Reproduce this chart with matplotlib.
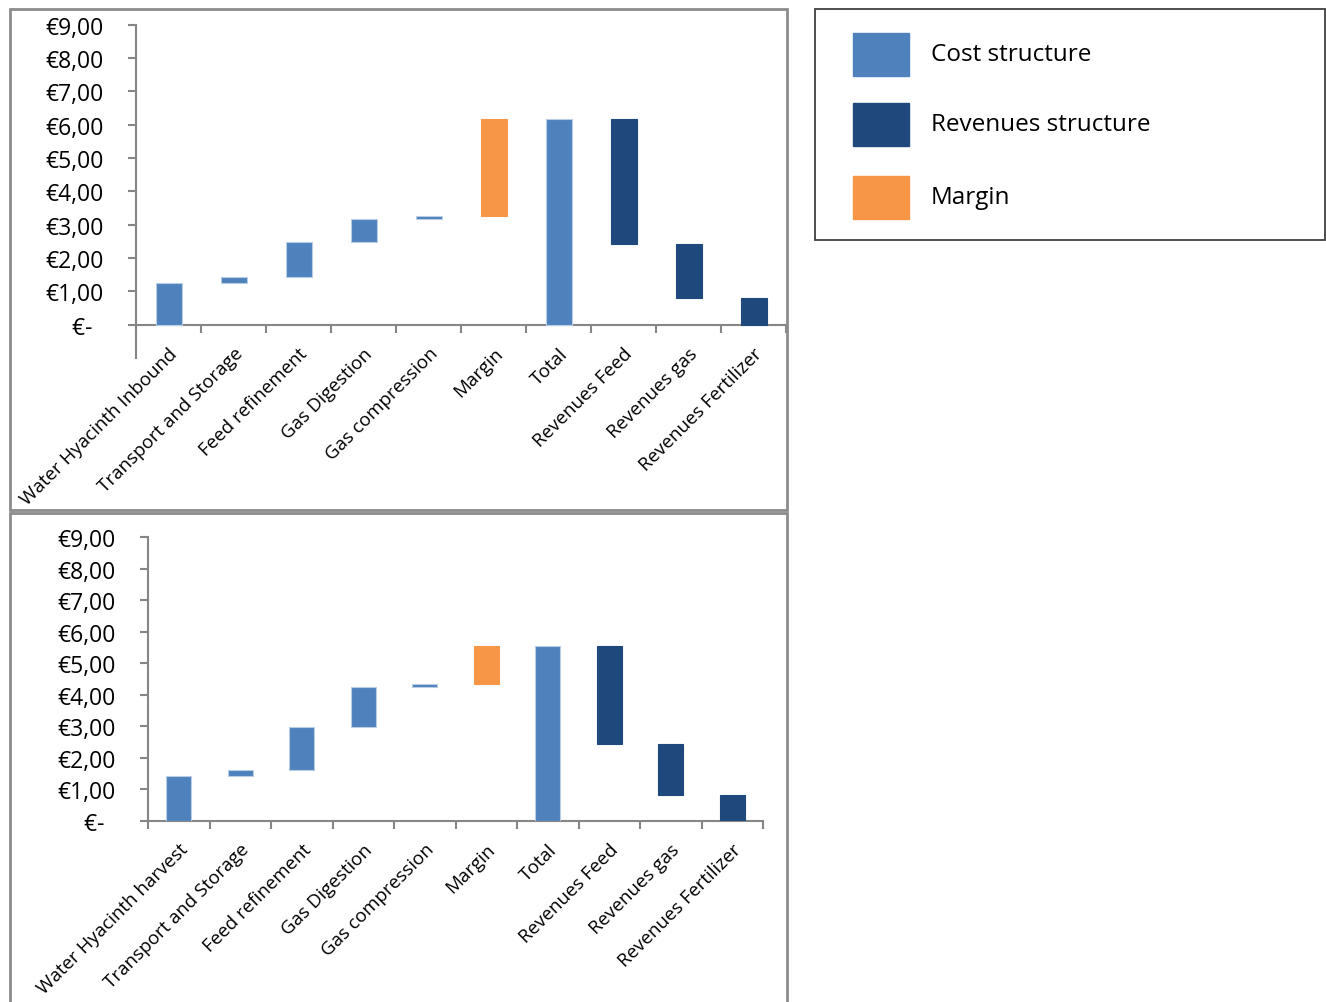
import numpy as np
import matplotlib
matplotlib.use("Agg")
import matplotlib.pyplot as plt
from matplotlib.patches import Rectangle
from matplotlib.ticker import FixedLocator, NullFormatter

plt.rcParams['font.family'] = ['Open Sans', 'DejaVu Sans']

# cost build-up and revenue split, euro per unit
labels_top = ["Water Hyacinth Inbound", "Transport and Storage", "Feed refinement",
              "Gas Digestion", "Gas compression", "Margin", "Total",
              "Revenues Feed", "Revenues gas", "Revenues Fertilizer"]
labels_bottom = ["Water Hyacinth harvest", "Transport and Storage", "Feed refinement",
                 "Gas Digestion", "Gas compression", "Margin", "Total",
                 "Revenues Feed", "Revenues gas", "Revenues Fertilizer"]

# step sizes: five cost steps, margin, then revenues (feed, gas, fertilizer)
costs_top = [1.26, 0.17, 1.04, 0.71, 0.08]
margin_top = 2.91
revenues_top = [3.75, 1.63, 0.79]

costs_bottom = [1.42, 0.18, 1.38, 1.25, 0.10]
margin_bottom = 1.21
revenues_bottom = [3.11, 1.63, 0.80]

legend_labels = ["Cost structure", "Revenues structure", "Margin"]

C_COST = "#4F81BD"
C_REV = "#1F497D"
C_MARGIN = "#F79646"
GRID = "#868686"


def waterfall(ax, labels, costs, margin, revenues, ymin):
    # spine placement first: moving a spine resets the ticks
    for s in ["top", "right"]:
        ax.spines[s].set_visible(False)
    ax.spines["bottom"].set_position(("data", 0))
    for s in ["left", "bottom"]:
        ax.spines[s].set_color(GRID)
        ax.spines[s].set_linewidth(1.5)

    x = np.arange(len(labels))
    bottoms, heights, colors = [], [], []
    run = 0.0
    for c in costs:
        bottoms.append(run); heights.append(c); colors.append(C_COST)
        run += c
    bottoms.append(run); heights.append(margin); colors.append(C_MARGIN)
    run += margin
    total = run
    bottoms.append(0); heights.append(total); colors.append(C_COST)
    top = total
    for r in revenues:
        bottoms.append(top - r); heights.append(r); colors.append(C_REV)
        top -= r
    edges = ["#B9CDE5" if c == C_COST else c for c in colors]
    ax.bar(x, heights, bottom=bottoms, width=0.4, color=colors,
           edgecolor=edges, linewidth=0.8, zorder=3)

    ax.set_xlim(-0.5, len(labels) - 0.5)
    ax.set_ylim(ymin, 9)
    ax.set_yticks(range(0, 10))
    ax.set_yticklabels(["€-  "] + ["€%d,00" % v for v in range(1, 10)], fontsize=16.5)

    ax.xaxis.set_major_locator(FixedLocator(np.arange(-0.5, len(labels), 1.0)))
    ax.xaxis.set_major_formatter(NullFormatter())
    ax.set_xticks(x, minor=True)
    ax.set_xticklabels(labels, minor=True, rotation=45, ha="right", va="top",
                       rotation_mode="anchor", fontsize=13.5)
    ax.tick_params(axis="x", which="major", length=6, width=1.5, color=GRID)
    ax.tick_params(axis="x", which="minor", length=0, pad=14)
    ax.tick_params(axis="y", length=6, width=1.5, color=GRID, pad=17)


W, H = 1326, 1003
fig = plt.figure(figsize=(W / 100, H / 100), dpi=100)


def frac_box(x0, y0, x1, y1):
    # pixel box (top-left origin) to figure fractions
    return [x0 / W, 1 - y1 / H, (x1 - x0) / W, (y1 - y0) / H]


# panel frames
for (x0, y0, x1, y1) in [(10, 10, 787, 511), (10, 514, 787, 1012)]:
    fig.patches.append(Rectangle((x0 / W, 1 - y1 / H), (x1 - x0) / W, (y1 - y0) / H,
                                 transform=fig.transFigure, fill=False,
                                 edgecolor="#8C8C8C", linewidth=2))

ax1 = fig.add_axes(frac_box(136, 25.7, 786, 359))
waterfall(ax1, labels_top, costs_top, margin_top, revenues_top, -1)

ax2 = fig.add_axes(frac_box(148, 538, 763, 821.7))
waterfall(ax2, labels_bottom, costs_bottom, margin_bottom, revenues_bottom, 0)

# legend box
fig.patches.append(Rectangle((815 / W, 1 - 241 / H), 510 / W, 231 / H,
                             transform=fig.transFigure, fill=False,
                             edgecolor="#404040", linewidth=1.3))
for i, (lab, col) in enumerate(zip(legend_labels, [C_COST, C_REV, C_MARGIN])):
    ytop = [34, 104, 177][i]
    fig.patches.append(Rectangle((853 / W, 1 - (ytop + 43) / H), 56 / W, 43 / H,
                                 transform=fig.transFigure, color=col))
    fig.text(931 / W, 1 - (ytop + 21) / H, lab, fontsize=17.5, va="center", ha="left")

fig.savefig("out.png", dpi=100)
